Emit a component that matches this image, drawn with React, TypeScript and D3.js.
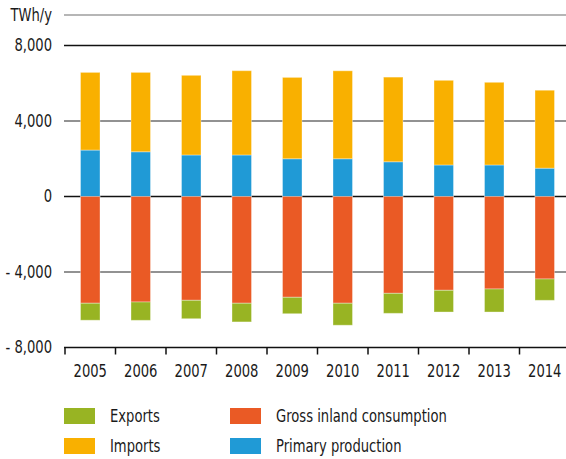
import React from "react";
import * as d3 from "d3";

const years = ["2005", "2006", "2007", "2008", "2009", "2010", "2011", "2012", "2013", "2014"];
const primaryProduction = [2460, 2370, 2200, 2200, 2000, 2000, 1840, 1670, 1670, 1500];
const imports = [4115, 4205, 4220, 4465, 4310, 4660, 4485, 4485, 4380, 4130];
const grossInlandConsumption = [-5655, -5590, -5500, -5655, -5340, -5655, -5130, -4970, -4900, -4370];
const exportsVals = [-900, -970, -975, -990, -870, -1165, -1060, -1150, -1220, -1130];
const yTicks = [8000, 4000, 0, -4000, -8000];
const unitLabel = "TWh/y";

const colors = {
  exports: "#98b423",
  imports: "#f9b000",
  gic: "#ea5a25",
  primary: "#209ad6",
};

const legendItems = [
  { label: "Exports", color: colors.exports, col: 0, row: 0 },
  { label: "Imports", color: colors.imports, col: 0, row: 1 },
  { label: "Gross inland consumption", color: colors.gic, col: 1, row: 0 },
  { label: "Primary production", color: colors.primary, col: 1, row: 1 },
];

const FONT = "'Liberation Sans Narrow', 'DejaVu Sans Condensed', sans-serif";
const SQUEEZE = 0.86;

function NText({ x, y, anchor, children }: { x: number; y: number; anchor?: string; children: React.ReactNode }) {
  return (
    <text
      transform={`translate(${x},${y}) scale(${SQUEEZE},1)`}
      dy="0.35em"
      textAnchor={anchor || "start"}
      fontSize={17}
      fill="#1a1a1a"
    >
      {children}
    </text>
  );
}

export default function App() {
  const W = 566;
  const H = 459;
  const x = d3.scaleBand<string>().domain(years).range([65, 570]).paddingInner(0).paddingOuter(0);
  const y = d3.scaleLinear().domain([-8000, 8000]).range([347.5, 45.5]);
  const barW = 19.5;
  const fmt = (v: number) => {
    const s = d3.format(",")(Math.abs(v));
    return v < 0 ? "- " + s : s;
  };

  const segs: { key: string; x: number; y0: number; y1: number; color: string }[] = [];
  years.forEach((yr, i) => {
    const cx = (x(yr) as number) + x.bandwidth() / 2 - barW / 2;
    const p = primaryProduction[i];
    const im = imports[i];
    const g = grossInlandConsumption[i];
    const e = exportsVals[i];
    segs.push({ key: "p" + i, x: cx, y0: 0, y1: p, color: colors.primary });
    segs.push({ key: "i" + i, x: cx, y0: p, y1: p + im, color: colors.imports });
    segs.push({ key: "g" + i, x: cx, y0: 0, y1: g, color: colors.gic });
    segs.push({ key: "e" + i, x: cx, y0: g, y1: g + e, color: colors.exports });
  });

  const axisY = y(-8000);
  const tickXs = years.map((yr) => x(yr) as number);

  return (
    <svg width={W} height={H} style={{ position: "absolute", left: 0, top: 0, background: "#fff" }} fontFamily={FONT}>
      <line x1={64} x2={W} y1={15} y2={15} stroke="#6e6e6e" strokeWidth={1.2} />
      <NText x={52} y={15} anchor="end">{unitLabel}</NText>
      {yTicks.map((t) => (
        <g key={t}>
          {t !== -8000 && (
            <line
              x1={64}
              x2={W}
              y1={y(t)}
              y2={y(t)}
              stroke={t === 0 || t === 8000 ? "#111" : "#6e6e6e"}
              strokeWidth={t === 0 || t === 8000 ? 1.5 : 1.6}
            />
          )}
          <NText x={52} y={y(t)} anchor="end">{fmt(t)}</NText>
        </g>
      ))}
      {segs.map((s) => {
        const top = y(Math.max(s.y0, s.y1));
        const bot = y(Math.min(s.y0, s.y1));
        return (
          <rect key={s.key} x={s.x} y={top} width={barW} height={bot - top} fill={s.color} stroke="#ffffff" strokeOpacity={0.35} strokeWidth={1} />
        );
      })}
      <line x1={64} x2={W} y1={axisY} y2={axisY} stroke="#111" strokeWidth={1.5} />
      {tickXs.map((tx, i) => (
        <line key={"t" + i} x1={tx} x2={tx} y1={axisY} y2={axisY + 7} stroke="#111" strokeWidth={1.5} />
      ))}
      {years.map((yr) => (
        <NText key={yr} x={(x(yr) as number) + x.bandwidth() / 2} y={371} anchor="middle">{yr}</NText>
      ))}
      {legendItems.map((it) => {
        const lx = it.col === 0 ? 64 : 230;
        const ly = it.row === 0 ? 408 : 438;
        return (
          <g key={it.label}>
            <rect x={lx} y={ly} width={31} height={16} fill={it.color} />
            <NText x={lx + 46} y={ly + 8}>{it.label}</NText>
          </g>
        );
      })}
    </svg>
  );
}
